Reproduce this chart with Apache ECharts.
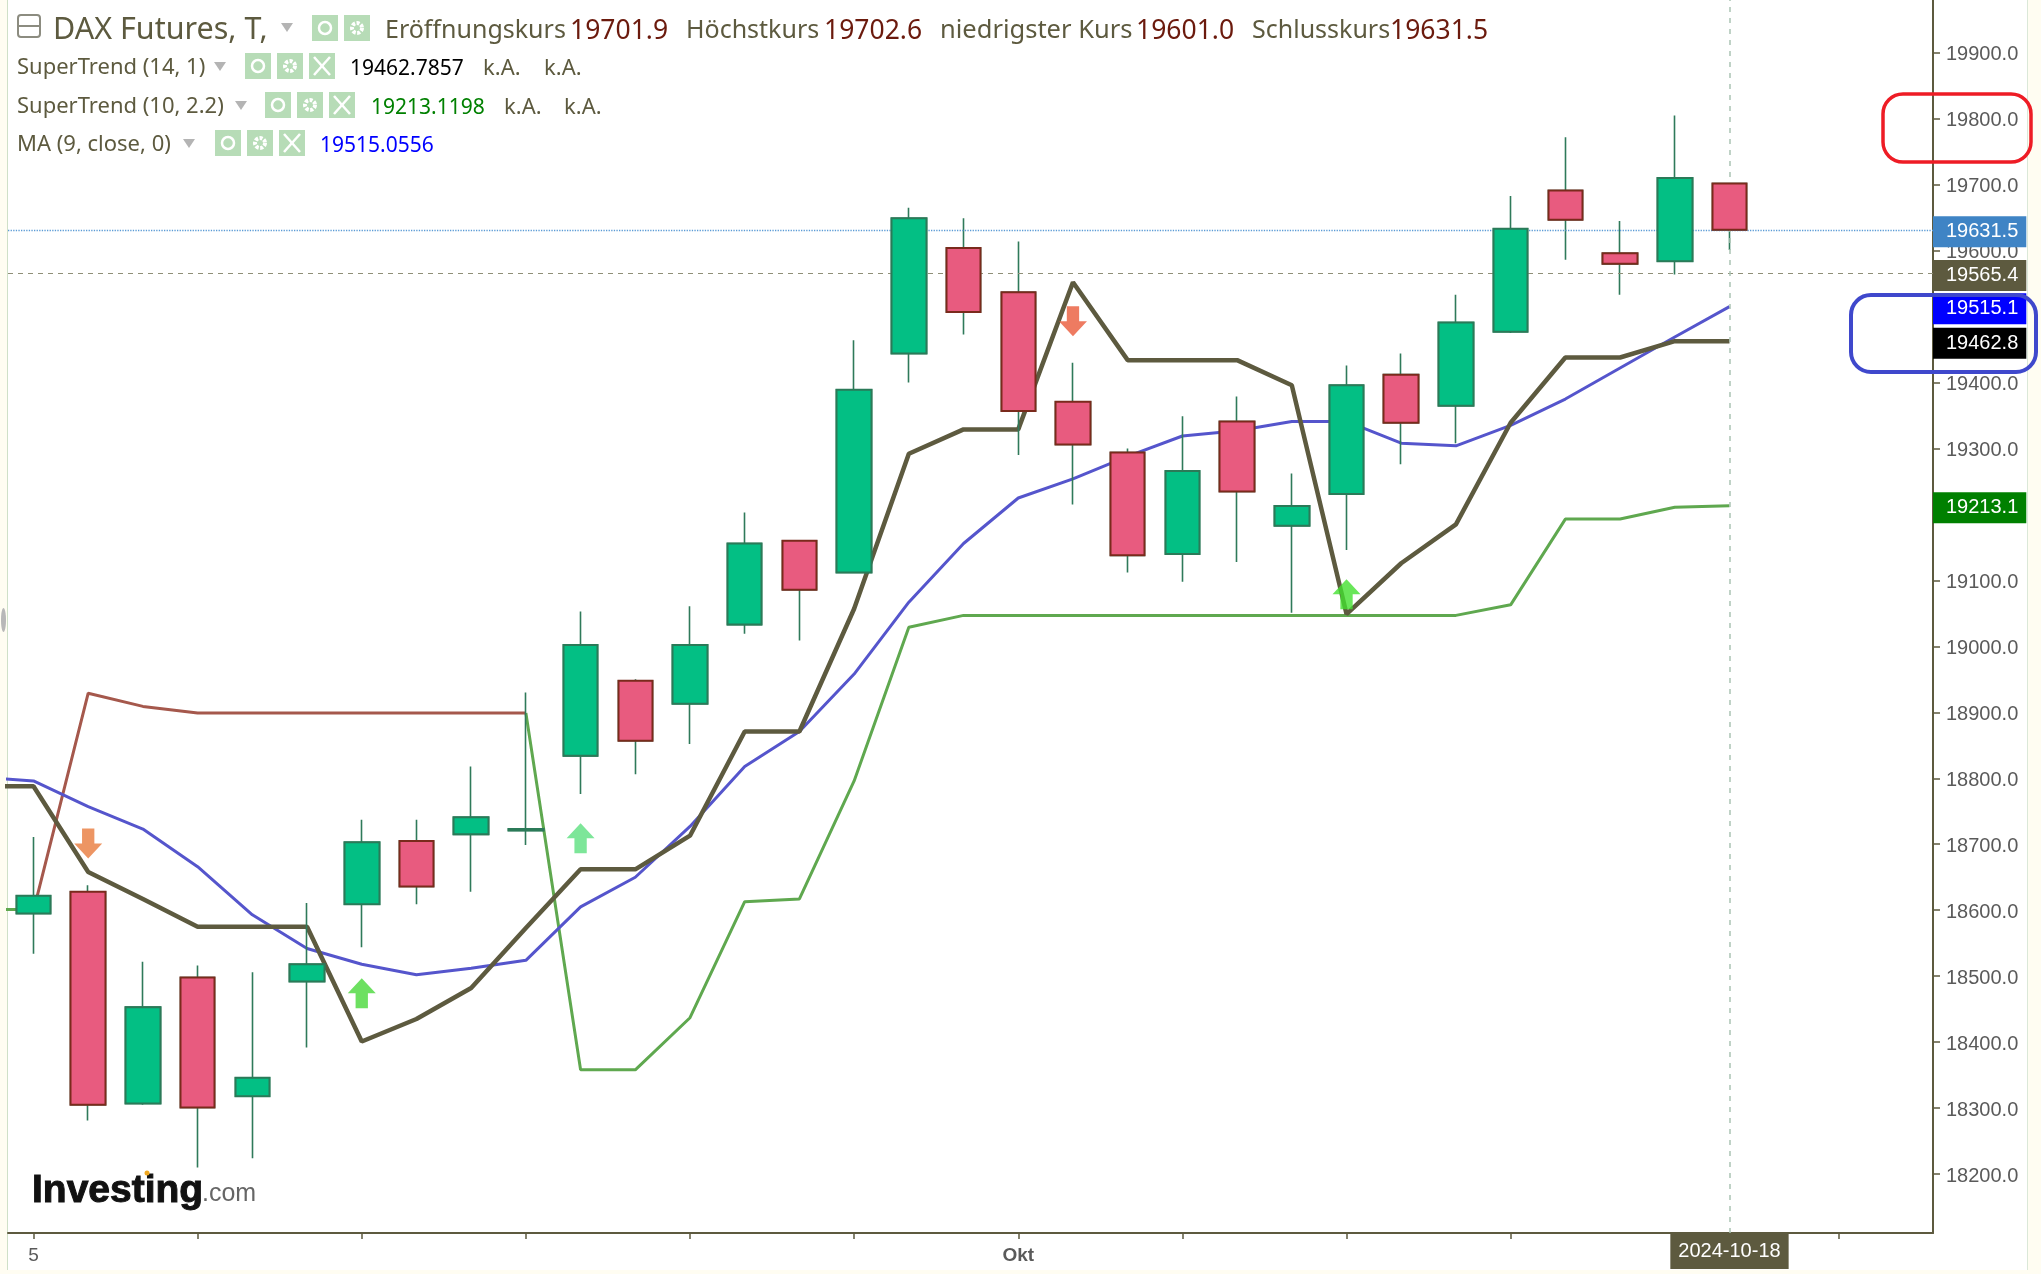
<!DOCTYPE html>
<html>
<head>
<meta charset="utf-8">
<title>DAX Futures</title>
<script src="https://cdn.jsdelivr.net/npm/echarts@6/dist/echarts.min.js"></script>
<style>
html, body { margin: 0; padding: 0; background: #fffdf2; }
#panel { position: absolute; left: 7px; top: 0; width: 2019px; height: 1270px; background: #fff; border-left: 1px solid #cfe0c8; border-right: 1px solid #dbe8d8; }
#main { position: absolute; left: 0; top: 0; width: 2041px; height: 1274px; }
</style>
</head>
<body>
<div id="panel"></div>
<div id="main"></div>
<script>
// candle values, index 0 is the first full candle on the left
var opens  = [18595,18628,18307,18498,18318,18492,18609,18705,18715,18721,18834,18948,18913,19033,19160,19112,19444,19604,19537,19371,19294,19140,19341,19183,19231,19412,19365,19477,19691,19596,19584,19701.9];
var closes = [18622,18305,18453,18301,18346,18518,18703,18636,18741,18723,19002,18857,19002,19156,19086,19389,19649,19507,19357,19306,19138,19266,19235,19213,19396,19339,19491,19633,19647,19580,19710,19631.5];
var lows   = [18534,18281,18305,18210,18224,18392,18544,18609,18628,18699,18776,18806,18852,19019,19009,19112,19400,19473,19290,19215,19112,19098,19128,19051,19146,19276,19308,19475,19586,19533,19564,19601];
var highs  = [18711,18638,18522,18516,18506,18611,18737,18737,18818,18930,19053,18950,19061,19203,19160,19464,19665,19649,19614,19430,19300,19349,19379,19262,19426,19444,19533,19683,19772,19645,19805,19702.6];

// indicator lines, these start one candle earlier (x = -1) so they run off the left edge
var superTrend14 = [18788,18788,18658,18617,18575,18575,18575,18401,18435,18482,18573,18662,18662,18713,18871,18871,19057,19292,19329,19329,19552,19434,19434,19434,19396,19049,19126,19185,19339,19438,19438,19462.8,19462.8];
var maClose9     = [18802,18796,18757,18723,18666,18593,18542,18518,18502,18512,18524,18605,18650,18727,18818,18871,18958,19067,19156,19225,19254,19288,19319,19327,19341,19341,19308,19304,19335,19375,19422,19469,19515.06];
var superTrend10Down = [null,18599,18929,18909,18899,18899,18899,18899,18899,18899,18899,null,null,null,null,null,null,null,null,null,null,null,null,null,null,null,null,null,null,null,null,null,null];
var superTrend10Up   = [18601,18601,null,null,null,null,null,null,null,null,18899,18358,18358,18437,18613,18617,18796,19029,19047,19047,19047,19047,19047,19047,19047,19047,19047,19047,19063,19193,19193,19211,19213.12];

// buy / sell arrows
var arrowIndex = [1,6,10,19,24];
var arrowValue = [18701,18474,18709,19493,19079];
var arrowKind  = ['down','up','up','down','up'];
var arrowColor = ['#e87b3c','#48d83a','#5ce07f','#ea5a3a','#44e030'];

// axis ticks
var priceTicks = [18200,18300,18400,18500,18600,18700,18800,18900,19000,19100,19200,19300,19400,19500,19600,19700,19800,19900];
var timeTicks = [0,3,6,9,12,15,18,21,24,27,30,33];
var timeLabels = {0:'5', 18:'Okt'};
var lastDate = '2024-10-18';

// price tags on the right axis
var tagValues = [19631.5,19565.4,19515.1,19462.8,19213.1];
var tagColors = ['#3f84c5','#5d5a3f','#0000ff','#000000','#008000'];

var OLIVE = '#5d5a3f';
var UI_FONT = '"Noto Sans"';
var chart = echarts.init(document.getElementById('main'), null, {renderer: 'canvas'});

function pairs(values) {
    return values.map(function (v, i) { return [i - 1, v]; });
}

function lineSeries(name, values, color, width) {
    return {
        name: name, type: 'line', data: pairs(values), showSymbol: false, z: 3,
        connectNulls: false, lineStyle: {color: color, width: width}, animation: false
    };
}

function tagLine(i) {
    var lineStyle = {width: 0, color: 'rgba(0,0,0,0)'};
    if (i === 0) lineStyle = {width: 1.3, color: '#5b9bd5', type: 'dotted'};
    if (i === 1) lineStyle = {width: 1, color: '#8f8f78', type: [5, 5]};
    return {
        yAxis: tagValues[i], lineStyle: lineStyle,
        label: {
            show: true, position: 'end', distance: 0, formatter: tagValues[i].toFixed(1),
            color: '#fff', fontSize: 20, fontFamily: 'Liberation Sans', lineHeight: 20,
            backgroundColor: tagColors[i], padding: [7, 8, 4, 13], offset: [0, 2]
        }
    };
}

// header pieces
var graphics = [];

function text(x, y, str, size, color, font, weight) {
    graphics.push({
        type: 'text', x: x, y: y, silent: true, z: 50,
        style: {text: str, fontSize: size, fill: color, fontFamily: font || UI_FONT, fontWeight: weight || 'normal', verticalAlign: 'middle', align: 'left'}
    });
}

function triangle(x, y) {
    graphics.push({type: 'polygon', z: 50, silent: true, shape: {points: [[x, y - 4], [x + 12, y - 4], [x + 6, y + 5]]}, style: {fill: '#b4b4b4'}});
}

function iconBox(x, y) {
    graphics.push({type: 'rect', z: 50, silent: true, shape: {x: x, y: y, width: 26, height: 26}, style: {fill: '#b7dcb7'}});
}

function eyeIcon(x, y) {
    iconBox(x, y);
    graphics.push({type: 'circle', z: 51, silent: true, shape: {cx: x + 13, cy: y + 13, r: 6}, style: {fill: 'none', stroke: '#fff', lineWidth: 2.5}});
}

function gearIcon(x, y) {
    iconBox(x, y);
    graphics.push({type: 'circle', z: 51, silent: true, shape: {cx: x + 13, cy: y + 13, r: 5}, style: {fill: 'none', stroke: '#fff', lineWidth: 4, lineDash: [3, 1.5]}});
}

function crossIcon(x, y) {
    iconBox(x, y);
    graphics.push({type: 'line', z: 51, silent: true, shape: {x1: x + 5, y1: y + 4, x2: x + 21, y2: y + 22}, style: {stroke: '#fff', lineWidth: 2.5}});
    graphics.push({type: 'line', z: 51, silent: true, shape: {x1: x + 21, y1: y + 4, x2: x + 5, y2: y + 22}, style: {stroke: '#fff', lineWidth: 2.5}});
}

// top row
graphics.push({type: 'rect', z: 50, silent: true, shape: {x: 18, y: 15, width: 22, height: 22, r: 3}, style: {fill: 'none', stroke: '#8c8c80', lineWidth: 2}});
graphics.push({type: 'line', z: 50, silent: true, shape: {x1: 18, y1: 26, x2: 40, y2: 26}, style: {stroke: '#8c8c80', lineWidth: 2}});
text(53, 30, 'DAX Futures, T,', 30.5, OLIVE);
triangle(281, 27);
eyeIcon(312, 15);
gearIcon(344, 15);
text(385, 31, 'Eröffnungskurs', 25, OLIVE);
text(570, 31, '19701.9', 26.5, '#6b1a0d');
text(686, 31, 'Höchstkurs', 25, OLIVE);
text(824, 31, '19702.6', 26.5, '#6b1a0d');
text(940, 31, 'niedrigster Kurs', 25.5, OLIVE);
text(1136, 31, '19601.0', 26.5, '#6b1a0d');
text(1252, 31, 'Schlusskurs', 25, OLIVE);
text(1390, 31, '19631.5', 26.5, '#6b1a0d');

// indicator rows
text(17, 68, 'SuperTrend (14, 1)', 22, OLIVE);
triangle(214, 66);
eyeIcon(245, 53); gearIcon(277, 53); crossIcon(309, 53);
text(350, 69, '19462.7857', 21, '#000');
text(483, 69, 'k.A.', 22, OLIVE);
text(544, 69, 'k.A.', 22, OLIVE);

text(17, 107, 'SuperTrend (10, 2.2)', 22, OLIVE);
triangle(235, 105);
eyeIcon(265, 92); gearIcon(297, 92); crossIcon(329, 92);
text(371, 108, '19213.1198', 21, '#008000');
text(504, 108, 'k.A.', 22, OLIVE);
text(564, 108, 'k.A.', 22, OLIVE);

text(17, 145, 'MA (9, close, 0)', 22, OLIVE);
triangle(183, 143);
eyeIcon(215, 130); gearIcon(247, 130); crossIcon(279, 130);
text(320, 146, '19515.0556', 21, '#0000ff');

// logo
graphics.push({
    type: 'text', x: 32, y: 1191, silent: true, z: 50,
    style: {text: 'Investing', fontSize: 39, fill: '#111', stroke: '#111', lineWidth: 1, fontFamily: 'Liberation Sans', fontWeight: 'bold', verticalAlign: 'middle', align: 'left'}
});
text(202, 1194, '.com', 25, '#666', 'Liberation Sans');
graphics.push({type: 'circle', z: 51, silent: true, shape: {cx: 147, cy: 1173, r: 2.5}, style: {fill: '#f0a820'}});

// small handle on the left edge
graphics.push({type: 'ellipse', z: 50, silent: true, shape: {cx: 3.5, cy: 620, rx: 2.5, ry: 12}, style: {fill: '#b8b8b8'}});

// hand drawn marks on the screenshot
graphics.push({type: 'rect', z: 60, silent: true, shape: {x: 1883, y: 94, width: 148, height: 68, r: 20}, style: {fill: 'none', stroke: '#ee1c25', lineWidth: 3.5}});
graphics.push({type: 'rect', z: 60, silent: true, shape: {x: 1851, y: 295, width: 185, height: 77, r: 20}, style: {fill: 'none', stroke: '#3f48cc', lineWidth: 4}});

var option = {
    animation: false,
    backgroundColor: 'transparent',
    grid: {left: 8, right: 108, top: 0, bottom: 41},
    xAxis: {
        type: 'value', min: -0.466, max: 34.72,
        splitLine: {show: false},
        axisLine: {show: true, onZero: false, lineStyle: {color: OLIVE, width: 2}},
        axisTick: {show: true, length: 6, lineStyle: {color: OLIVE, width: 1.5}, customValues: timeTicks},
        axisLabel: {
            customValues: timeTicks, margin: 13, fontSize: 19, color: '#5a5a5a', fontFamily: 'Liberation Sans',
            formatter: function (v) {
                if (v === 18) return '{b|' + timeLabels[v] + '}';
                return timeLabels[v] || '';
            },
            rich: {b: {fontWeight: 'bold', fontSize: 19, color: '#5a5a5a', fontFamily: 'Liberation Sans'}}
        }
    },
    yAxis: {
        type: 'value', position: 'right', min: 18110.6, max: 19980,
        splitLine: {show: false},
        axisLine: {show: true, onZero: false, lineStyle: {color: OLIVE, width: 2}},
        axisTick: {show: true, length: 7, lineStyle: {color: OLIVE, width: 1.5}, customValues: priceTicks},
        axisLabel: {
            customValues: priceTicks, margin: 13,
            formatter: function (v) { return '{p|' + v.toFixed(1) + '}'; },
            rich: {p: {fontSize: 20, color: '#5a5a5a', fontFamily: 'Liberation Sans', padding: [4, 0, 0, 0]}}
        }
    },
    series: [
        lineSeries('SuperTrend (10, 2.2) up', superTrend10Up, '#5fa84f', 3),
        lineSeries('SuperTrend (10, 2.2) down', superTrend10Down, '#a5584c', 3),
        lineSeries('MA (9, close, 0)', maClose9, '#5555cc', 3),
        lineSeries('SuperTrend (14, 1)', superTrend14, OLIVE, 4.5),
        {
            // thin wicks, always green
            name: 'wicks', type: 'candlestick', barWidth: 35, z: 4,
            encode: {x: 0, y: [1, 2, 3, 4]},
            data: opens.map(function (o, i) { return [i, o, closes[i], lows[i], highs[i]]; }),
            itemStyle: {color: '#2f7a5a', color0: '#2f7a5a', borderColor: '#2f7a5a', borderColor0: '#2f7a5a', borderWidth: 1.6}
        },
        {
            // bodies on top so the border colour can differ from the wick
            name: 'bodies', type: 'candlestick', barWidth: 35, z: 5,
            encode: {x: 0, y: [1, 2, 3, 4]},
            data: opens.map(function (o, i) {
                return [i, o, closes[i], Math.min(o, closes[i]), Math.max(o, closes[i])];
            }),
            itemStyle: {color: '#03bf84', color0: '#e85b7f', borderColor: '#2b7a58', borderColor0: '#7a2a1c', borderWidth: 2}
        },
        {
            name: 'signals', type: 'scatter', z: 6, symbolSize: [28, 30],
            data: arrowIndex.map(function (x, i) {
                return {
                    value: [x, arrowValue[i]],
                    symbol: 'path://M5 0 L10 5 L7.2 5 L7.2 10 L2.8 10 L2.8 5 L0 5 Z',
                    symbolRotate: arrowKind[i] === 'down' ? 180 : 0,
                    itemStyle: {color: arrowColor[i]}
                };
            })
        },
        {
            // price tags and the last candle crosshair
            name: 'tags', type: 'line', data: [], z: 7,
            markLine: {
                silent: true, symbol: ['none', 'none'], animation: false,
                data: [0, 1, 2, 3, 4].map(tagLine).concat([{
                    xAxis: 31,
                    lineStyle: {color: '#aac4b4', width: 1.5, type: [5, 6]},
                    label: {
                        show: true, position: 'start', distance: 0, formatter: lastDate,
                        color: '#fff', fontSize: 20, fontFamily: 'Liberation Sans', lineHeight: 20,
                        backgroundColor: OLIVE, padding: [8, 8, 8, 8]
                    }
                }])
            }
        }
    ],
    graphic: {elements: graphics}
};

chart.setOption(option);

window.addEventListener('resize', function () { chart.resize(); });
</script>
</body>
</html>
